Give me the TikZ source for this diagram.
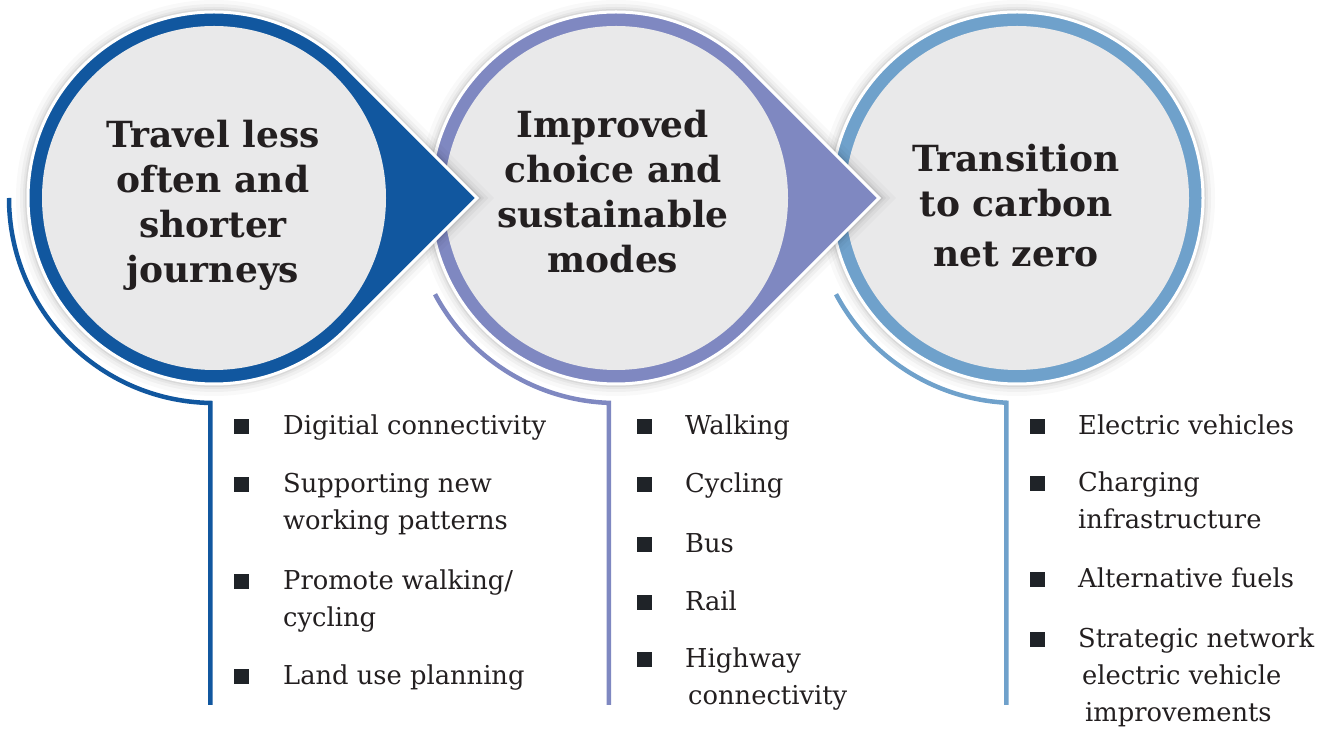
\documentclass[tikz,border=0pt]{standalone}
\usepackage{fontspec}
\setmainfont{DejaVu Serif}
\newfontfamily\itemfont[FakeStretch=0.99]{DejaVu Serif}
\usetikzlibrary{calc}
\definecolor{cA}{HTML}{11579F}
\definecolor{cB}{HTML}{7F88C1}
\definecolor{cC}{HTML}{6FA1CB}
\definecolor{fillgray}{HTML}{E9E9EA}
\definecolor{ink}{HTML}{231F20}
\definecolor{bul}{HTML}{1F2328}
\newcommand{\teardrop}[2]{($(#1)+(45:#2)$) arc[start angle=45,end angle=315,radius=#2] -- ($(#1)+({#2*1.41421},0)$) -- cycle}
\tikzset{
  head/.style={font=\fontsize{36}{45}\selectfont\bfseries, text=ink, anchor=base, inner sep=0pt},
  item/.style={font=\itemfont\fontsize{26}{37}\selectfont, text=ink, anchor=base west, inner sep=0pt},
  bullet/.style={fill=bul, minimum size=15pt, inner sep=0pt, draw=none},
  leader/.style={line width=4.5pt}
}
\begin{document}
\begin{tikzpicture}[x=1pt,y=1pt]
\useasboundingbox (0,0) rectangle (1317,736);
\coordinate (c1) at (214,538);
\coordinate (c2) at (616,538);
\coordinate (c3) at (1017,538);
% leader arcs and lines
\coordinate (s1) at ($(c1)+(180:205)$);
\coordinate (s2) at ($(c2)+(208:205)$);
\coordinate (s3) at ($(c3)+(208:205)$);
\draw[leader, cA] (s1) arc[start angle=180, end angle=269, radius=205] coordinate (k1) -- (k1 |- 0,31) coordinate (e1);
\draw[leader, cB] (s2) arc[start angle=208, end angle=268, radius=205] coordinate (k2) -- (k2 |- 0,31) coordinate (e2);
\draw[leader, cC] (s3) arc[start angle=208, end angle=267, radius=205] coordinate (k3) -- (k3 |- 0,31) coordinate (e3);
% circle 3 (plain)
\begin{scope}[shift={(3,-3)}]
  \foreach \rr/\op in {198/0.025, 194/0.035, 191/0.045, 189/0.06}{
    \fill[black, opacity=\op] (c3) circle[radius=\rr];
  }
\end{scope}
\fill[cC, draw=white, line width=3pt] (c3) circle[radius=186];
\fill[fillgray] (c3) circle[radius=172];
% circles 2 and 1 with arrow tips
\foreach \c/\col in {c2/cB, c1/cA}{
  \begin{scope}[shift={(3,-3)}]
    \foreach \rr/\op in {198/0.025, 194/0.035, 191/0.045, 189/0.06}{
      \fill[black, opacity=\op] \teardrop{\c}{\rr};
    }
  \end{scope}
  \fill[\col, draw=white, line width=3pt] \teardrop{\c}{186};
  \fill[fillgray] (\c) circle[radius=172];
}
% headings
\node[head] (h1) at (213,588) {\begin{tabular}[t]{@{}c@{}}Travel less\\often and\\shorter\\journeys\end{tabular}};
\node[head] (h2) at (613,598) {\begin{tabular}[t]{@{}c@{}}Improved\\choice and\\sustainable\\modes\end{tabular}};
\node[head] (h3) at (1016,564) {\begin{tabular}[t]{@{}c@{}}Transition\\to carbon\\[5pt]net zero\end{tabular}};
% column 1
\node[bullet] (b11) at (241,309) {};
\node[bullet] (b12) at (241,251) {};
\node[bullet] (b13) at (241,154) {};
\node[bullet] (b14) at (241,59) {};
\node[item] (t11) at (283,301) {Digitial connectivity};
\node[item] (t12) at (283,243) {\begin{tabular}[t]{@{}l@{}}Supporting new\\working patterns\end{tabular}};
\node[item] (t13) at (283,146) {\begin{tabular}[t]{@{}l@{}}Promote walking/\\cycling\end{tabular}};
\node[item] (t14) at (283,51) {Land use planning};
% column 2
\node[bullet] (b21) at (644,309) {};
\node[bullet] (b22) at (644,251) {};
\node[bullet] (b23) at (644,191) {};
\node[bullet] (b24) at (644,133) {};
\node[bullet] (b25) at (644,76) {};
\node[item] (t21) at (685,301) {Walking};
\node[item] (t22) at (685,243) {Cycling};
\node[item] (t23) at (685,183) {Bus};
\node[item] (t24) at (685,125) {Rail};
\node[item] (t25) at (685,68) {\begin{tabular}[t]{@{}l@{}}Highway\\\hspace{3pt}connectivity\end{tabular}};
% column 3
\node[bullet] (b31) at (1037,309) {};
\node[bullet] (b32) at (1037,252) {};
\node[bullet] (b33) at (1037,156) {};
\node[bullet] (b34) at (1037,96) {};
\node[item] (t31) at (1078,301) {Electric vehicles};
\node[item] (t32) at (1078,244) {\begin{tabular}[t]{@{}l@{}}Charging\\infrastructure\end{tabular}};
\node[item] (t33) at (1078,148) {Alternative fuels};
\node[item] (t34) at (1078,88) {\begin{tabular}[t]{@{}l@{}}Strategic network\\\hspace{4pt}electric vehicle\\\hspace{7pt}improvements\end{tabular}};
\end{tikzpicture}
\end{document}
